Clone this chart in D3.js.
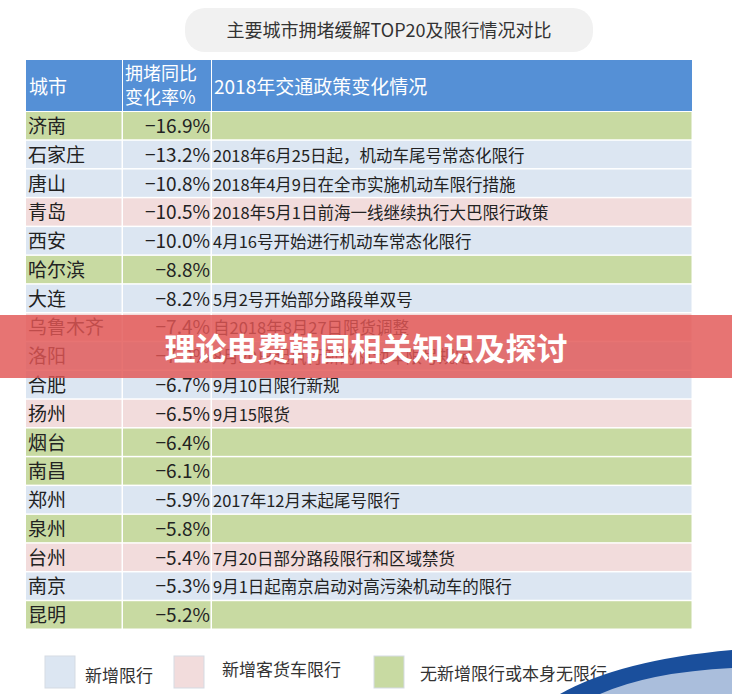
<!DOCTYPE html>
<html><head><meta charset="utf-8">
<script src="https://cdn.jsdelivr.net/npm/d3@7"></script>
<style>body{margin:0;background:#fff}svg{display:block}</style>
</head><body>
<svg id="c" width="732" height="694"></svg>
<script>
var cities = ["济南","石家庄","唐山","青岛","西安","哈尔滨","大连","乌鲁木齐","洛阳","合肥","扬州","烟台","南昌","郑州","泉州","台州","南京","昆明"];
var rates = [-16.9,-13.2,-10.8,-10.5,-10.0,-8.8,-8.2,-7.4,-7.0,-6.7,-6.5,-6.4,-6.1,-5.9,-5.8,-5.4,-5.3,-5.2];
var policies = ["","2018年6月25日起，机动车尾号常态化限行","2018年4月9日在全市实施机动车限行措施","2018年5月1日前海一线继续执行大巴限行政策","4月16号开始进行机动车常态化限行","","5月2号开始部分路段单双号","自2018年8月27日限货调整","8月20日起执行新的机动车限号规定","9月10日限行新规","9月15限货","","","2017年12月末起尾号限行","","7月20日部分路段限行和区域禁货","9月1日起南京启动对高污染机动车的限行",""];
var types = ["g","b","b","p","b","g","b","p","b","b","p","g","g","b","g","p","b","g"];
var legendLabels = ["新增限行","新增客货车限行","无新增限行或本身无限行"];
var headers = ["城市","拥堵同比\n变化率%","2018年交通政策变化情况"];

var fill = {b:"#dce6f2", p:"#f2dcdc", g:"#c8daa2"};
var svg = d3.select("#c");
var font = "'Noto Sans CJK SC','Noto Sans',sans-serif";

// title pill
svg.append("rect").attr("x",185).attr("y",8).attr("width",408).attr("height",44).attr("rx",20).attr("fill","#f1f1f1");
svg.append("text").attr("x",389).attr("y",37).attr("text-anchor","middle").attr("font-family",font)
  .attr("font-size",18).attr("fill","#333").text("主要城市拥堵缓解TOP20及限行情况对比");

var cols = [26,123,212,693];
var y = d3.scaleBand().domain(d3.range(cities.length)).range([112,630]);

// header
var hdr = svg.append("g");
hdr.selectAll("rect").data([0,1,2]).join("rect")
  .attr("x",i=>cols[i]).attr("y",60).attr("width",i=>cols[i+1]-cols[i]-1).attr("height",51).attr("fill","#5590d6");
hdr.append("text").attr("x",29).attr("y",94).attr("fill","#fff").attr("font-family",font).attr("font-size",19).text(headers[0]);
var h2 = hdr.append("text").attr("x",125).attr("fill","#fff").attr("font-family",font).attr("font-size",18);
headers[1].split("\n").forEach((t,k)=>h2.append("tspan").attr("x",125).attr("y",80+k*24).text(t));
hdr.append("text").attr("x",214).attr("y",94).attr("fill","#fff").attr("font-family",font).attr("font-size",19).text(headers[2]);

// rows
var rows = svg.selectAll("g.row").data(cities).join("g").attr("class","row")
  .attr("transform",(d,i)=>"translate(0,"+y(i)+")");
rows.each(function(d,i){
  var g = d3.select(this), h = y.bandwidth()-1.5;
  [0,1,2].forEach(c=>g.append("rect").attr("x",cols[c]).attr("y",0).attr("width",cols[c+1]-cols[c]-1.5).attr("height",h).attr("fill",fill[types[i]]));
  g.append("text").attr("x",28).attr("y",21).attr("font-family",font).attr("font-size",19).attr("fill","#222").text(d);
  g.append("text").attr("x",210).attr("y",21).attr("text-anchor","end").attr("font-family",font).attr("font-size",19).attr("fill","#222")
    .text("−"+Math.abs(rates[i]).toFixed(1)+"%");
  g.append("text").attr("x",213).attr("y",21).attr("font-family",font).attr("font-size",16.5).attr("fill","#222").text(policies[i]);
});

// legend
var lx = [45,174,374], tx=[85,222,420], ty=[682,676,680];
legendLabels.forEach((t,k)=>{
  svg.append("rect").attr("x",lx[k]).attr("y",656).attr("width",30).attr("height",32).attr("fill",fill[["b","p","g"][k]]).attr("stroke","#d5dbe3");
  svg.append("text").attr("x",tx[k]).attr("y",ty[k]).attr("font-family",font).attr("font-size",17).attr("fill","#333").text(t);
});

// decoration bottom right
svg.append("path").attr("d","M560,694 Q620,660 732,650 L732,694 Z").attr("fill","#1a4f9c");
svg.append("path").attr("d","M600,694 Q650,672 732,668 L732,694 Z").attr("fill","#e8eef8").attr("opacity",0.7);

// banner overlay
svg.append("rect").attr("x",0).attr("y",315).attr("width",732).attr("height",63).attr("fill","rgba(226,86,84,0.82)");
svg.append("text").attr("x",366).attr("y",360).attr("text-anchor","middle").attr("font-family",font).attr("font-weight","bold")
  .attr("font-size",31).attr("fill","#fff").text("理论电费韩国相关知识及探讨");
</script>
</body></html>
